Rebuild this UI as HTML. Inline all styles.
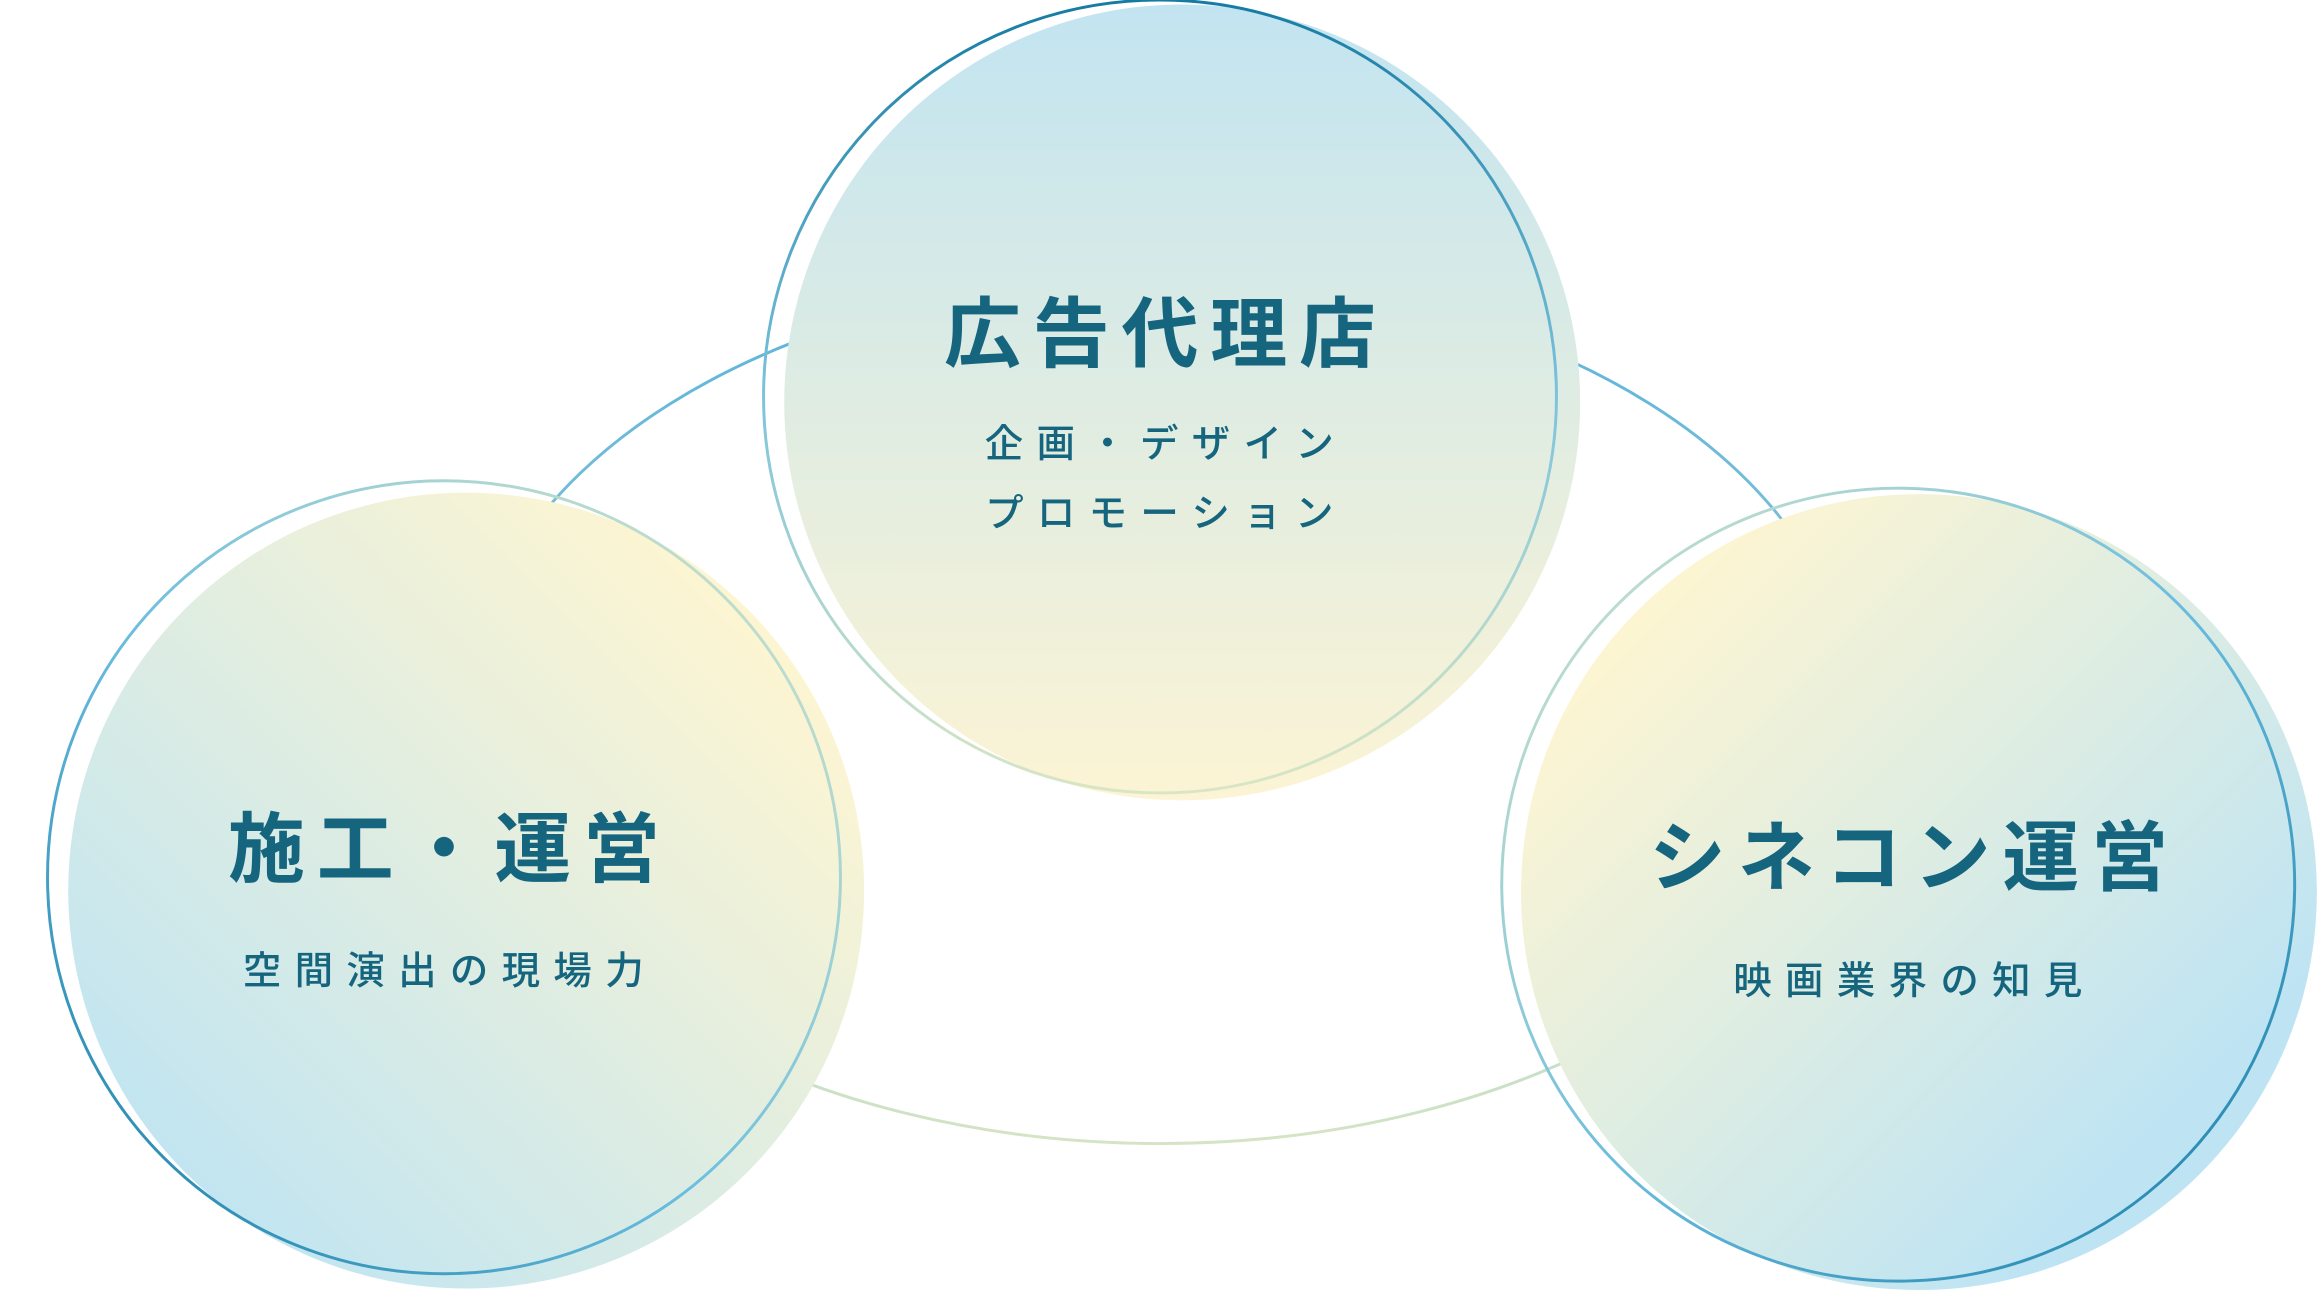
<!DOCTYPE html>
<html><head><meta charset="utf-8"><style>
html,body{margin:0;padding:0;background:#fff;width:2320px;height:1290px;overflow:hidden}
svg{display:block}
text{font-family:"Liberation Sans","Noto Sans CJK JP",sans-serif;fill:#16657f;text-anchor:middle}
.t{font-size:52px;font-weight:700;letter-spacing:8px}
.s{font-size:26px;font-weight:500;letter-spacing:9px}
</style></head><body>
<svg width="2320" height="1290" viewBox="0 0 1568 872" xmlns="http://www.w3.org/2000/svg">
<defs>
<linearGradient id="el" x1="0" y1="0" x2="0" y2="1">
<stop offset="0" stop-color="#5ab3da"/><stop offset="0.5" stop-color="#8cc6d8"/><stop offset="1" stop-color="#d5e4c4"/></linearGradient>
<linearGradient id="tf" x1="0" y1="0" x2="0" y2="1">
<stop offset="0" stop-color="#c2e4f1"/><stop offset="1" stop-color="#fcf4d4"/></linearGradient>
<linearGradient id="to" x1="0" y1="0" x2="0" y2="1">
<stop offset="0" stop-color="#157ba3"/><stop offset="0.5" stop-color="#7cc3dd"/><stop offset="1" stop-color="#d9e6c4"/></linearGradient>
<linearGradient id="lf" x1="0" y1="1" x2="1" y2="0">
<stop offset="0.1" stop-color="#bee4f3"/><stop offset="0.85" stop-color="#fdf5d2"/></linearGradient>
<linearGradient id="lo" x1="0" y1="1" x2="1" y2="0">
<stop offset="0" stop-color="#157ba3"/><stop offset="0.45" stop-color="#6bbde0"/><stop offset="1" stop-color="#dbe8c6"/></linearGradient>
<linearGradient id="rf" x1="0" y1="0" x2="1" y2="1">
<stop offset="0.15" stop-color="#fdf5d2"/><stop offset="0.8" stop-color="#bee4f3"/></linearGradient>
<linearGradient id="ro" x1="0" y1="0" x2="1" y2="1">
<stop offset="0" stop-color="#dbe8c6"/><stop offset="0.5" stop-color="#6bbde0"/><stop offset="1" stop-color="#157ba3"/></linearGradient>
</defs>
<ellipse cx="784" cy="480" rx="468" ry="293" fill="none" stroke="url(#el)" stroke-width="2"/>
<circle cx="799" cy="272" r="269" fill="url(#tf)"/>
<circle cx="784" cy="268" r="268" fill="none" stroke="url(#to)" stroke-width="2"/>
<circle cx="315" cy="602" r="269" fill="url(#lf)"/>
<circle cx="300" cy="593" r="268" fill="none" stroke="url(#lo)" stroke-width="2"/>
<circle cx="1297" cy="603" r="269" fill="url(#rf)"/>
<circle cx="1283" cy="598" r="268" fill="none" stroke="url(#ro)" stroke-width="2"/>
<text class="t" x="788" y="244">広告代理店</text>
<text class="s" x="788" y="309">企画・デザイン</text>
<text class="s" x="788" y="356">プロモーション</text>
<text class="t" x="304" y="592">施工・運営</text>
<text class="s" x="304" y="665">空間演出の現場力</text>
<text class="t" x="1294" y="598">シネコン運営</text>
<text class="s" x="1294" y="672">映画業界の知見</text>
</svg>
</body></html>
